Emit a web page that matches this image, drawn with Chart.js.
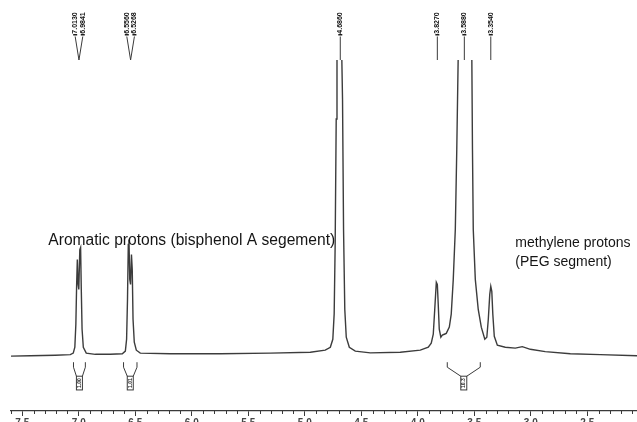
<!DOCTYPE html>
<html>
<head>
<meta charset="utf-8">
<script src="https://cdn.jsdelivr.net/npm/chart.js@4.4.1/dist/chart.umd.min.js"></script>
<style>
  html, body { margin: 0; padding: 0; background: #fff; overflow: hidden; }
  #wrap { width: 637px; height: 430px; }
</style>
</head>
<body>
<div id="wrap"><canvas id="nmr" width="637" height="430"></canvas></div>
<script>
// ============================================================
// 1H NMR spectrum
// ============================================================

// chemical shift (ppm) and intensity (baseline = 0, plot top = 100)
const shift = [
  7.606, 7.429, 7.208, 7.075, 7.049, 7.035, 7.026, 7.019, 7.013, 7.006, 7.000, 6.991, 6.984, 6.978, 6.971, 6.960, 6.934, 6.854,
  6.721, 6.615, 6.588, 6.577, 6.569, 6.562, 6.556, 6.549, 6.542, 6.534, 6.527, 6.520, 6.509, 6.491, 6.456,
  6.190, 5.748, 5.305, 4.951, 4.819, 4.774, 4.752, 4.740, 4.731, 4.722, 4.715, 4.673, 4.666, 4.657, 4.646, 4.633, 4.606, 4.553, 4.420, 4.155,
  3.978, 3.907, 3.881, 3.863, 3.850, 3.836, 3.827, 3.819, 3.810, 3.796, 3.783, 3.765, 3.748, 3.721, 3.704, 3.686, 3.668, 3.655, 3.642,
  3.522, 3.516, 3.509, 3.491, 3.465, 3.438, 3.407, 3.389, 3.376, 3.363, 3.354, 3.345, 3.336, 3.323, 3.296,
  3.226, 3.137, 3.075, 3.004, 2.872, 2.650, 2.385, 2.058
];
const intensity = [
  -0.3, -0.2, 0, 0.2, 0.7, 2.7, 10.5, 24.0, 32.4, 24.0, 22.3, 35.8, 36.5, 22.3, 8.8, 2.7, 0.7, 0.3,
  0.3, 0.5, 1.4, 5.4, 18.9, 37.5, 39.2, 25.7, 24.0, 34.1, 29.1, 12.2, 4.4, 1.7, 0.7,
  0.5, 0.5, 0.7, 1.0, 1.7, 2.7, 5.4, 14.0, 38.0, 80.0, 102, 102, 86.5, 42.6, 15.5, 6.1, 2.7, 1.4, 0.8, 1.0,
  1.7, 2.7, 4.1, 7.1, 15.5, 24.7, 24.0, 17.2, 8.8, 6.1, 6.8, 7.1, 7.4, 9.5, 13.9, 25.7, 42.6, 69.6, 102,
  102, 69.6, 42.6, 25.7, 15.5, 9.5, 5.4, 6.1, 12.2, 20.6, 23.3, 21.6, 13.9, 6.4, 3.4,
  2.7, 2.4, 2.9, 2.0, 1.2, 0.5, 0.2, -0.2
];

// axis labels
const majorTicks = [7.5, 7.0, 6.5, 6.0, 5.5, 5.0, 4.5, 4.0, 3.5, 3.0, 2.5];

// picked peaks (labels printed above the spectrum), grouped per multiplet
const peakShift = [7.013, 6.984, 6.556, 6.527, 4.686, 3.827, 3.588, 3.354];
const peakLabels = ["7.0130", "6.9841", "6.5560", "6.5268", "4.6860", "3.8270", "3.5880", "3.3540"];
const peakGroup = [0, 0, 1, 1, 2, 3, 4, 5];

// integration regions under the baseline
const integralFrom = [7.047, 6.604, 3.739];
const integralTo = [6.942, 6.485, 3.447];
const integralValue = ["1.00", "1.01", "10.3"];

// annotations
const noteText = ["Aromatic protons (bisphenol A segement)", "methylene protons", "(PEG segment)"];
const noteShift = [7.27, 3.137, 3.137];
const noteLevel = [38.9, 37.8, 31.4];
const noteSize = [15.6, 14, 14];

// ============================================================
// decorations: minor ticks, peak labels, integrals, notes
// ============================================================
const nmrDecor = {
  id: "nmrDecor",
  afterDraw(chart) {
    const { ctx, chartArea, scales: { x, y } } = chart;
    ctx.save();
    ctx.strokeStyle = "#3a3a3a";
    ctx.fillStyle = "#1e1e1e";
    ctx.lineWidth = 1;

    // minor ticks every 0.1 ppm
    for (let k = 21; k <= 76; k++) {
      if (k % 5 === 0) continue;
      const px = Math.round(x.getPixelForValue(k / 10)) + 0.5;
      ctx.beginPath();
      ctx.moveTo(px, chartArea.bottom);
      ctx.lineTo(px, chartArea.bottom + 3);
      ctx.stroke();
    }

    // peak labels + stems
    peakShift.forEach((p, i) => {
      const members = peakGroup.map((g, j) => (g === peakGroup[i] ? j : -1)).filter(j => j >= 0);
      const mid = members.reduce((s, j) => s + x.getPixelForValue(peakShift[j]), 0) / members.length;
      let tx = x.getPixelForValue(p);
      if (members.length > 1) tx = mid + (members.indexOf(i) === 0 ? -3.8 : 3.8);

      ctx.save();
      ctx.translate(tx, 23);
      ctx.rotate(-Math.PI / 2);
      ctx.font = "bold 7px 'Liberation Sans', Arial";
      ctx.textAlign = "center";
      ctx.textBaseline = "middle";
      ctx.fillStyle = "#111";
      ctx.fillText(peakLabels[i], 0, 0);
      ctx.restore();

      ctx.fillRect(tx - 2, 34, 4, 1.5);
      ctx.beginPath();
      ctx.moveTo(tx, 36.5);
      ctx.lineTo(mid, chartArea.top);
      ctx.stroke();
    });

    // integral brackets
    const top = y.getPixelForValue(0) + 7;
    ctx.font = "bold 5px 'Liberation Sans', Arial";
    integralFrom.forEach((f, i) => {
      const x1 = x.getPixelForValue(f);
      const x2 = x.getPixelForValue(integralTo[i]);
      const cx = (x1 + x2) / 2;
      const h = ctx.measureText(integralValue[i]).width + 4;
      ctx.beginPath();
      ctx.moveTo(x1, top);
      ctx.lineTo(x1, top + 5);
      ctx.lineTo(cx - 3, top + 14);
      ctx.moveTo(x2, top);
      ctx.lineTo(x2, top + 5);
      ctx.lineTo(cx + 3, top + 14);
      ctx.stroke();
      ctx.strokeRect(cx - 3, top + 14, 6, h);

      ctx.save();
      ctx.translate(cx, top + 14 + h / 2);
      ctx.rotate(-Math.PI / 2);
      ctx.textAlign = "center";
      ctx.textBaseline = "middle";
      ctx.fillText(integralValue[i], 0, 0);
      ctx.restore();
    });

    // notes
    ctx.fillStyle = "#151515";
    ctx.textAlign = "left";
    ctx.textBaseline = "middle";
    noteText.forEach((t, i) => {
      ctx.font = `${noteSize[i]}px 'Liberation Sans', Arial`;
      ctx.fillText(t, x.getPixelForValue(noteShift[i]), y.getPixelForValue(noteLevel[i]));
    });

    ctx.restore();
  },
};

// ============================================================
// chart
// ============================================================
const ctx = document.getElementById("nmr").getContext("2d");

new Chart(ctx, {
  type: "line",
  data: {
    datasets: [
      {
        data: shift.map((s, i) => ({ x: s, y: intensity[i] })),
        borderColor: "#3c3c3c",
        borderWidth: 1.4,
        pointRadius: 0,
        tension: 0,
        fill: false,
      },
    ],
  },
  options: {
    responsive: false,
    animation: false,
    layout: { padding: { top: 60, left: 11, right: 0, bottom: 0 } },
    plugins: { legend: { display: false }, tooltip: { enabled: false } },
    scales: {
      x: {
        type: "linear",
        reverse: true,
        min: 2.06,
        max: 7.6,
        afterBuildTicks: scale => {
          scale.ticks = majorTicks.map(v => ({ value: v }));
        },
        grid: { drawOnChartArea: false, tickLength: 5, tickColor: "#3a3a3a" },
        border: { display: true, color: "#3a3a3a", width: 1.3 },
        ticks: {
          padding: 1,
          maxRotation: 0,
          color: "#444",
          font: { family: "'Liberation Sans', Arial", size: 10, weight: "bold" },
          callback: v => Number(v).toFixed(1),
        },
      },
      y: { display: false, min: -18.9, max: 100 },
    },
  },
  plugins: [nmrDecor],
});
</script>
</body>
</html>
